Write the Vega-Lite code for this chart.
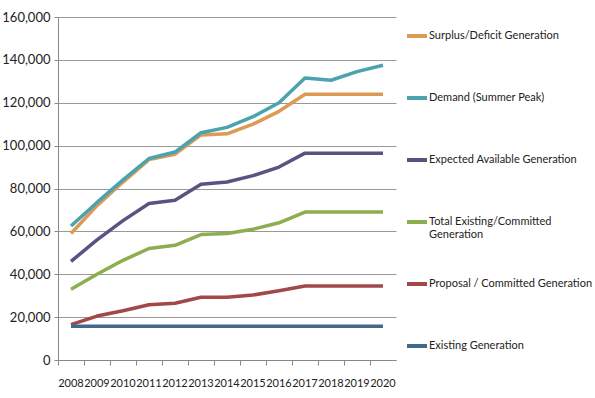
{
  "$schema": "https://vega.github.io/schema/vega-lite/v6.json",
  "autosize": "none",
  "padding": {"left": 58, "top": 17, "right": 199, "bottom": 38},
  "width": 338,
  "height": 343,
  "background": "white",
  "config": {
    "view": {"stroke": null},
    "font": "Lato",
    "axis": {"labelFont": "Lato", "labelColor": "#222"},
    "legend": {"labelFont": "Lato"}
  },
  "data": {
    "values": [
      {"year": "2008", "series": "Surplus/Deficit Generation", "value": 59000},
      {"year": "2009", "series": "Surplus/Deficit Generation", "value": 72000},
      {"year": "2010", "series": "Surplus/Deficit Generation", "value": 83000},
      {"year": "2011", "series": "Surplus/Deficit Generation", "value": 93500},
      {"year": "2012", "series": "Surplus/Deficit Generation", "value": 96000},
      {"year": "2013", "series": "Surplus/Deficit Generation", "value": 105000},
      {"year": "2014", "series": "Surplus/Deficit Generation", "value": 105500},
      {"year": "2015", "series": "Surplus/Deficit Generation", "value": 110000},
      {"year": "2016", "series": "Surplus/Deficit Generation", "value": 116000},
      {"year": "2017", "series": "Surplus/Deficit Generation", "value": 124000},
      {"year": "2018", "series": "Surplus/Deficit Generation", "value": 124000},
      {"year": "2019", "series": "Surplus/Deficit Generation", "value": 124000},
      {"year": "2020", "series": "Surplus/Deficit Generation", "value": 124000},
      {"year": "2008", "series": "Demand (Summer  Peak)", "value": 62500},
      {"year": "2009", "series": "Demand (Summer  Peak)", "value": 73500},
      {"year": "2010", "series": "Demand (Summer  Peak)", "value": 84000},
      {"year": "2011", "series": "Demand (Summer  Peak)", "value": 94000},
      {"year": "2012", "series": "Demand (Summer  Peak)", "value": 97000},
      {"year": "2013", "series": "Demand (Summer  Peak)", "value": 106000},
      {"year": "2014", "series": "Demand (Summer  Peak)", "value": 108500},
      {"year": "2015", "series": "Demand (Summer  Peak)", "value": 113500},
      {"year": "2016", "series": "Demand (Summer  Peak)", "value": 120000},
      {"year": "2017", "series": "Demand (Summer  Peak)", "value": 131500},
      {"year": "2018", "series": "Demand (Summer  Peak)", "value": 130500},
      {"year": "2019", "series": "Demand (Summer  Peak)", "value": 134500},
      {"year": "2020", "series": "Demand (Summer  Peak)", "value": 137500},
      {"year": "2008", "series": "Expected Available Generation", "value": 46000},
      {"year": "2009", "series": "Expected Available Generation", "value": 56000},
      {"year": "2010", "series": "Expected Available Generation", "value": 65000},
      {"year": "2011", "series": "Expected Available Generation", "value": 73000},
      {"year": "2012", "series": "Expected Available Generation", "value": 74500},
      {"year": "2013", "series": "Expected Available Generation", "value": 82000},
      {"year": "2014", "series": "Expected Available Generation", "value": 83000},
      {"year": "2015", "series": "Expected Available Generation", "value": 86000},
      {"year": "2016", "series": "Expected Available Generation", "value": 90000},
      {"year": "2017", "series": "Expected Available Generation", "value": 96500},
      {"year": "2018", "series": "Expected Available Generation", "value": 96500},
      {"year": "2019", "series": "Expected Available Generation", "value": 96500},
      {"year": "2020", "series": "Expected Available Generation", "value": 96500},
      {"year": "2008", "series": "Total Existing/Committed Generation", "value": 33000},
      {"year": "2009", "series": "Total Existing/Committed Generation", "value": 40000},
      {"year": "2010", "series": "Total Existing/Committed Generation", "value": 46500},
      {"year": "2011", "series": "Total Existing/Committed Generation", "value": 52000},
      {"year": "2012", "series": "Total Existing/Committed Generation", "value": 53500},
      {"year": "2013", "series": "Total Existing/Committed Generation", "value": 58500},
      {"year": "2014", "series": "Total Existing/Committed Generation", "value": 59000},
      {"year": "2015", "series": "Total Existing/Committed Generation", "value": 61000},
      {"year": "2016", "series": "Total Existing/Committed Generation", "value": 64000},
      {"year": "2017", "series": "Total Existing/Committed Generation", "value": 69000},
      {"year": "2018", "series": "Total Existing/Committed Generation", "value": 69000},
      {"year": "2019", "series": "Total Existing/Committed Generation", "value": 69000},
      {"year": "2020", "series": "Total Existing/Committed Generation", "value": 69000},
      {"year": "2008", "series": "Proposal / Committed  Generation", "value": 16500},
      {"year": "2009", "series": "Proposal / Committed  Generation", "value": 20500},
      {"year": "2010", "series": "Proposal / Committed  Generation", "value": 23000},
      {"year": "2011", "series": "Proposal / Committed  Generation", "value": 25800},
      {"year": "2012", "series": "Proposal / Committed  Generation", "value": 26500},
      {"year": "2013", "series": "Proposal / Committed  Generation", "value": 29300},
      {"year": "2014", "series": "Proposal / Committed  Generation", "value": 29300},
      {"year": "2015", "series": "Proposal / Committed  Generation", "value": 30300},
      {"year": "2016", "series": "Proposal / Committed  Generation", "value": 32300},
      {"year": "2017", "series": "Proposal / Committed  Generation", "value": 34500},
      {"year": "2018", "series": "Proposal / Committed  Generation", "value": 34500},
      {"year": "2019", "series": "Proposal / Committed  Generation", "value": 34500},
      {"year": "2020", "series": "Proposal / Committed  Generation", "value": 34500},
      {"year": "2008", "series": "Existing Generation", "value": 15800},
      {"year": "2009", "series": "Existing Generation", "value": 15800},
      {"year": "2010", "series": "Existing Generation", "value": 15800},
      {"year": "2011", "series": "Existing Generation", "value": 15800},
      {"year": "2012", "series": "Existing Generation", "value": 15800},
      {"year": "2013", "series": "Existing Generation", "value": 15800},
      {"year": "2014", "series": "Existing Generation", "value": 15800},
      {"year": "2015", "series": "Existing Generation", "value": 15800},
      {"year": "2016", "series": "Existing Generation", "value": 15800},
      {"year": "2017", "series": "Existing Generation", "value": 15800},
      {"year": "2018", "series": "Existing Generation", "value": 15800},
      {"year": "2019", "series": "Existing Generation", "value": 15800},
      {"year": "2020", "series": "Existing Generation", "value": 15800}
    ]
  },
  "mark": {"type": "line", "strokeWidth": 3.5, "strokeJoin": "round"},
  "encoding": {
    "x": {
      "field": "year",
      "type": "ordinal",
      "scale": {"type": "band", "paddingInner": 0, "paddingOuter": 0},
      "axis": {
        "title": null,
        "labelAngle": 0,
        "labelFontSize": 11,
        "labelPadding": 12,
        "bandPosition": 0,
        "ticks": true,
        "tickSize": 5,
        "tickColor": "#888",
        "domainColor": "#888",
        "grid": false
      }
    },
    "y": {
      "field": "value",
      "type": "quantitative",
      "scale": {"domain": [0, 160000], "nice": false},
      "axis": {
        "title": null,
        "values": [0, 20000, 40000, 60000, 80000, 100000, 120000, 140000, 160000],
        "format": ",d",
        "labelFontSize": 13,
        "labelPadding": 4,
        "tickSize": 4,
        "tickColor": "#888",
        "domainColor": "#888",
        "gridColor": "#999",
        "gridWidth": 1
      }
    },
    "color": {
      "field": "series",
      "type": "nominal",
      "scale": {
        "domain": ["Surplus/Deficit Generation", "Demand (Summer  Peak)", "Expected Available Generation", "Total Existing/Committed Generation", "Proposal / Committed  Generation", "Existing Generation"],
        "range": ["#DD9A55", "#4AA3AE", "#5C5282", "#8CAE4E", "#A24848", "#41698C"]
      },
      "legend": {
        "title": null,
        "orient": "none",
        "legendX": 347,
        "legendY": 7,
        "symbolType": "stroke",
        "symbolSize": 400,
        "symbolStrokeWidth": 4,
        "labelFontSize": 11,
        "labelColor": "#222",
        "labelOffset": 0,
        "rowPadding": 32,
        "labelLimit": 250,
        "labelExpr": "datum.label == 'Total Existing/Committed Generation' ? ['Total Existing/Committed', 'Generation'] : [datum.label, ' ']"
      }
    }
  }
}
